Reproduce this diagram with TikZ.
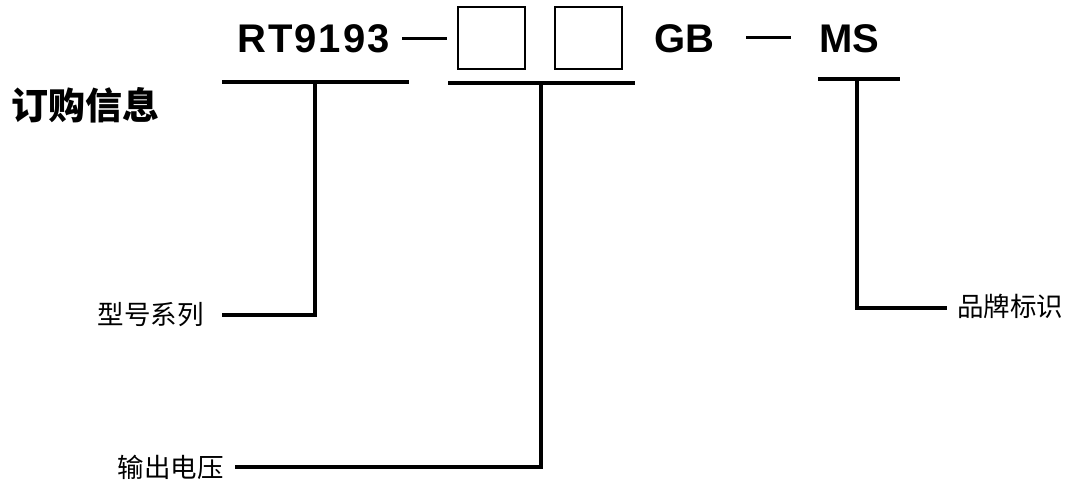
\documentclass[tikz,border=0pt]{standalone}
\usepackage{fontspec}
\setmainfont{Liberation Sans}
\newfontfamily\cjk{Noto Sans CJK SC}
\begin{document}
\begin{tikzpicture}[x=1pt,y=-1pt,
  part/.style={inner sep=0pt,anchor=base west,font=\fontsize{40}{40}\selectfont\bfseries},
  lbl/.style={inner sep=0pt,font=\cjk\fontsize{26.5}{26.5}\selectfont},
  bar/.style={line width=4pt},
  link/.style={line width=4pt},
  dashline/.style={line width=3pt},
  slot/.style={draw,line width=2pt,inner sep=0pt,minimum width=67pt,minimum height=62pt}]
\useasboundingbox (0,0) rectangle (1071,486);
% title
\node[inner sep=0pt,anchor=west,font=\cjk\fontsize{37}{37}\selectfont\bfseries] (title) at (11,105) {订购信息};
% part number
\node[part] (rt) at (237,53) {\addfontfeature{LetterSpace=5}RT9193};
\coordinate (d1a) at (402,39); \coordinate (d1b) at (447,39);
\draw[dashline] (d1a) -- (d1b);
\node[slot] (box1) at (491,38.5) {};
\node[slot] (box2) at (588.5,38.5) {};
\node[part] (gb) at (654,53) {GB};
\coordinate (d2a) at (746,38); \coordinate (d2b) at (791,38);
\draw[dashline] (d2a) -- (d2b);
\node[part] (ms) at (819,53) {MS};
% underlines
\coordinate (u1a) at (222,82); \coordinate (u1b) at (409,82);
\coordinate (u2a) at (448,83); \coordinate (u2b) at (635,83);
\coordinate (u3a) at (818,79); \coordinate (u3b) at (900,79);
\draw[bar] (u1a) -- (u1b);
\draw[bar] (u2a) -- (u2b);
\draw[bar] (u3a) -- (u3b);
\coordinate (j1) at (315,82);
\coordinate (j2) at (541,83);
\coordinate (j3) at (857,79);
% labels
\node[lbl,anchor=east] (l1) at (204,315) {型号系列};
\node[lbl,anchor=east] (l2) at (224,467) {输出电压};
\node[lbl,anchor=west] (l3) at (957,306) {品牌标识};
\coordinate (e1) at (222,315);
\coordinate (e2) at (235,467);
\coordinate (e3) at (947,308);
% connectors
\draw[link] (j1) |- (e1);
\draw[link] (j2) |- (e2);
\draw[link] (j3) |- (e3);
\end{tikzpicture}
\end{document}
